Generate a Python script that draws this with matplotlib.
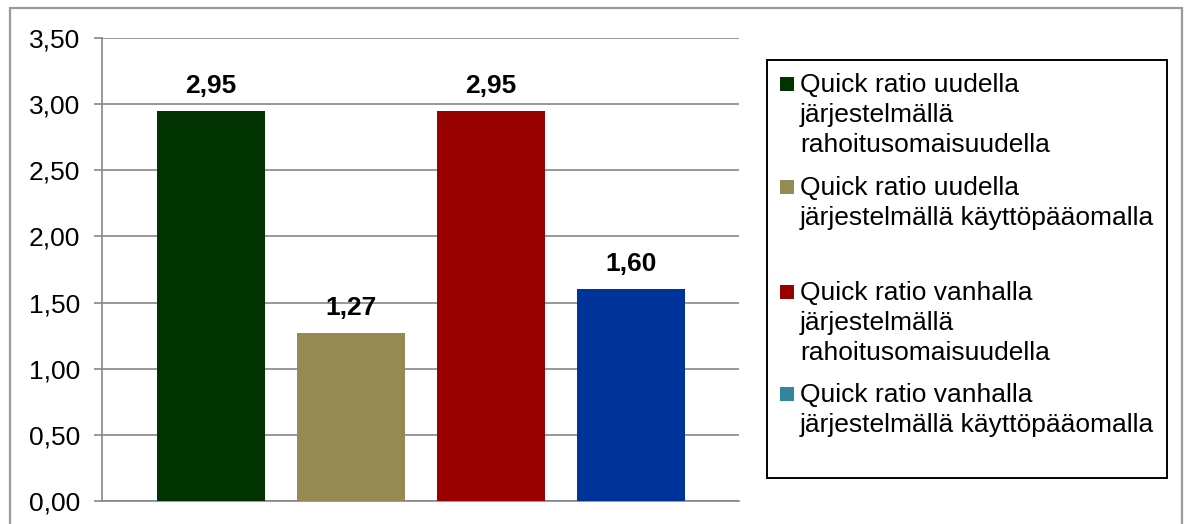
import matplotlib
matplotlib.use("Agg")
import matplotlib.pyplot as plt
from matplotlib.patches import Rectangle
from matplotlib.ticker import FuncFormatter, MultipleLocator

# Series data
series_labels = [
    "Quick ratio uudella\njärjestelmällä\nrahoitusomaisuudella",
    "Quick ratio uudella\njärjestelmällä käyttöpääomalla",
    "Quick ratio vanhalla\njärjestelmällä\nrahoitusomaisuudella",
    "Quick ratio vanhalla\njärjestelmällä käyttöpääomalla",
]
values = [2.95, 1.27, 2.95, 1.60]
bar_colors = ["#003300", "#948A54", "#990000", "#003399"]
legend_colors = ["#003300", "#948A54", "#990000", "#31859C"]

W, H = 1186, 524
DPI = 100
FS = 19
plt.rcParams["font.family"] = ["Liberation Sans", "DejaVu Sans"]

fig = plt.figure(figsize=(W / DPI, H / DPI), dpi=DPI)


def fx(px):
    return px / W


def fy(py):
    return 1 - py / H


# Outer chart frame
fig.patches.append(Rectangle((fx(10), -0.02), fx(1182) - fx(10), fy(8) + 0.02,
                             transform=fig.transFigure, fill=False,
                             edgecolor="#9A9A9A", linewidth=1.6, zorder=0))

ax = fig.add_axes([fx(102), fy(501), fx(739) - fx(102), fy(38) - fy(501)])

positions = list(range(len(values)))
bars = ax.bar(positions, values, width=0.77, color=bar_colors, zorder=3)

ax.set_xlim(-0.78, 3.77)
ax.set_ylim(0, 3.5)
ax.yaxis.set_major_locator(MultipleLocator(0.5))
ax.yaxis.set_major_formatter(FuncFormatter(lambda v, p: f"{v:.2f}".replace(".", ",")))
ax.set_xticks([])
ax.tick_params(axis="y", length=5.5, width=1.2, color="#868686", pad=10,
               labelsize=FS, labelcolor="black")
ax.grid(axis="y", color="#868686", linewidth=1.2, zorder=1)
for side in ("top", "right"):
    ax.spines[side].set_visible(False)
for side in ("left", "bottom"):
    ax.spines[side].set_color("#868686")
    ax.spines[side].set_linewidth(1.2)

for b, v in zip(bars, values):
    ax.annotate(f"{v:.2f}".replace(".", ","),
                (b.get_x() + b.get_width() / 2, v),
                xytext=(0, 13), textcoords="offset points",
                ha="center", va="baseline", fontsize=FS, fontweight="bold")

# Legend box with fixed slots per entry
fig.patches.append(Rectangle((fx(767), fy(478)), fx(1167) - fx(767), fy(60) - fy(478),
                             transform=fig.transFigure, fill=False,
                             edgecolor="black", linewidth=1.4, zorder=2))
first_baselines = [92, 195, 300, 402]
for label, color, base in zip(series_labels, legend_colors, first_baselines):
    fig.patches.append(Rectangle((fx(780), fy(base - 1)), fx(794) - fx(780),
                                 fy(base - 15) - fy(base - 1),
                                 transform=fig.transFigure, facecolor=color,
                                 edgecolor="none", zorder=3))
    for i, line in enumerate(label.split("\n")):
        fig.text(fx(800), fy(base + 30 * i), line, fontsize=FS,
                 ha="left", va="baseline")

fig.savefig("out.png", dpi=DPI)
